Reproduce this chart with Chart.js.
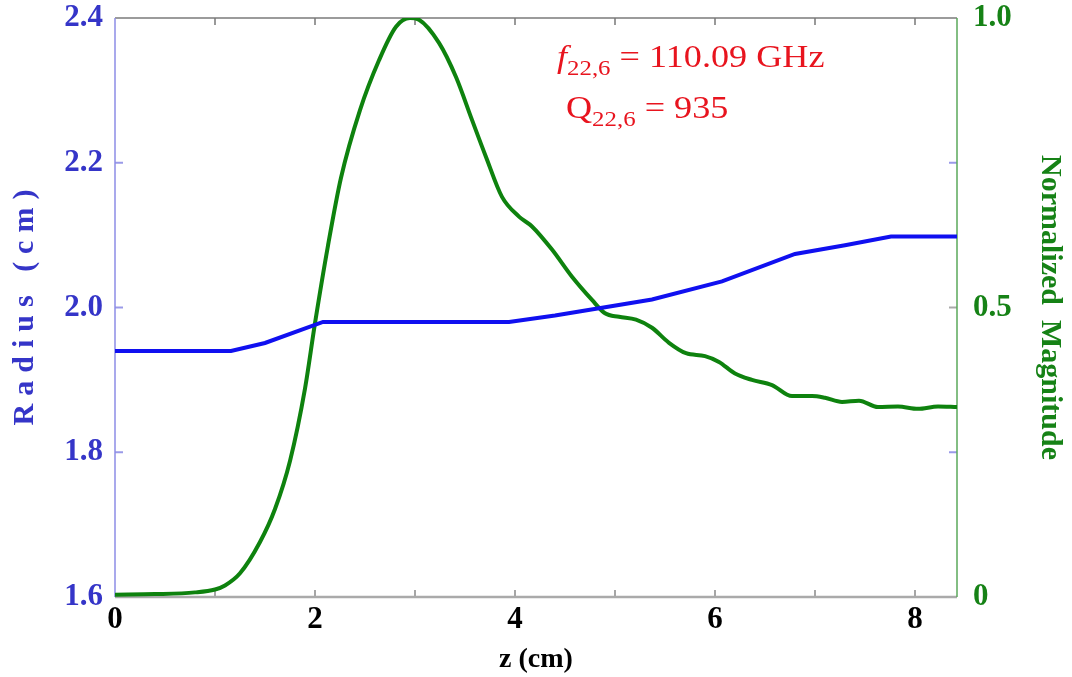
<!DOCTYPE html>
<html>
<head>
<meta charset="utf-8">
<script src="https://cdn.jsdelivr.net/npm/chart.js@4.4.1/dist/chart.umd.min.js"></script>
<style>
  html, body { margin: 0; padding: 0; background: #fff; }
  canvas { display: block; }
</style>
</head>
<body>
<canvas id="chart" width="1072" height="677"></canvas>
<script>
// ================= DATA =================
// cavity wall radius profile (left axis)
const radiusZ = [0, 1.16, 1.5, 2.08, 3.94, 4.4, 4.84, 5.37, 6.07, 6.8, 7.3, 7.76, 8.42];
const radius = [1.94, 1.94, 1.951, 1.98, 1.98, 1.989, 1.999, 2.011, 2.036, 2.074, 2.086, 2.098, 2.098];

// normalized field magnitude (right axis)
const fieldZ = [
  0, 0.4, 0.8, 1.0, 1.1, 1.25, 1.45, 1.6, 1.75, 1.9, 2.0, 2.13, 2.26,
  2.45, 2.64, 2.81, 2.95, 3.04, 3.24, 3.41, 3.57, 3.71, 3.87, 4.04, 4.17, 4.37,
  4.57, 4.77, 4.9, 5.04, 5.21, 5.37, 5.54, 5.71, 5.9, 6.04, 6.2, 6.37, 6.57, 6.77,
  6.97, 7.1, 7.27, 7.44, 7.63, 7.83, 8.03, 8.23, 8.42,
];
const field = [
  0.004, 0.005, 0.008, 0.013, 0.02, 0.041, 0.095, 0.152, 0.235, 0.36, 0.473, 0.607,
  0.724, 0.841, 0.927, 0.985, 1.0, 0.997, 0.957, 0.898, 0.824, 0.76,
  0.691, 0.657, 0.64, 0.6, 0.553, 0.513, 0.49, 0.484, 0.479, 0.465, 0.439, 0.421,
  0.416, 0.406, 0.386, 0.375, 0.366, 0.347, 0.347, 0.344, 0.337, 0.339, 0.328,
  0.329, 0.325, 0.329, 0.328,
];

const zTicks = [0, 2, 4, 6, 8];
const radiusTicks = [1.6, 1.8, 2.0, 2.2, 2.4];
const fieldTicks = [0, 0.5, 1.0];

const radiusTitle = "Radius (cm)";
const freqLabel = "= 110.09 GHz";
const qLabel = "= 935";
const modeIndex = "22,6";

// ================= STYLE =================
const SERIF = "'Liberation Serif', 'Times New Roman', serif";
const BLUE = "#1010f0";
const GREEN = "#0e820e";
const BLUE_TEXT = "#3535c8";
const GREEN_TEXT = "#168216";
const RED = "#e8141e";

// ================= PLUGINS =================
const frame = {
  id: "frame",
  beforeDatasetsDraw(chart) {
    const { ctx, chartArea: a, scales } = chart;
    const x = scales.x, y = scales.y, y1 = scales.y1;
    ctx.save();

    const line = (x0, y0, x2, y2, color, w) => {
      ctx.strokeStyle = color;
      ctx.lineWidth = w;
      ctx.beginPath();
      ctx.moveTo(x0, y0);
      ctx.lineTo(x2, y2);
      ctx.stroke();
    };

    // ticks every 1 cm, top and bottom, pointing inward
    for (let v = 1; v <= 8; v++) {
      const px = x.getPixelForValue(v);
      line(px, a.top, px, a.top + 7, "#777", 1.5);
      line(px, a.bottom, px, a.bottom - 7, "#888", 1.5);
    }
    [1.8, 2.0, 2.2].forEach((v) => {
      const py = y.getPixelForValue(v);
      line(a.left, py, a.left + 8, py, "#9a9ae8", 2);
    });
    [1.8, 2.2].forEach((v) => {
      const py = y.getPixelForValue(v);
      line(a.right, py, a.right - 8, py, "#9a9ae8", 2);
    });
    const p5 = y1.getPixelForValue(0.5);
    line(a.right, p5, a.right - 8, p5, "#aaa", 2);

    line(a.left, a.top, a.right, a.top, "#7a7a7a", 1.5);
    line(a.left, a.bottom, a.right, a.bottom, "#aaaaaa", 2.5);
    line(a.left, a.top, a.left, a.bottom, "#8c8ce6", 1.5);
    line(a.right, a.top, a.right, a.bottom, "#5aa85a", 1.5);
    ctx.restore();
  },
  afterDraw(chart) {
    const { ctx, chartArea: a } = chart;
    ctx.save();

    // left axis title, spread out as in the figure
    ctx.fillStyle = BLUE_TEXT;
    ctx.font = "bold 30px " + SERIF;
    ctx.textBaseline = "middle";
    const gap = 8;
    const chars = [...radiusTitle];
    const total =
      chars.reduce((s, c) => s + ctx.measureText(c).width, 0) + gap * (chars.length - 1);
    ctx.save();
    ctx.translate(25, (a.top + a.bottom) / 2);
    ctx.rotate(-Math.PI / 2);
    let cx = -total / 2;
    chars.forEach((c) => {
      ctx.fillText(c, cx, 0);
      cx += ctx.measureText(c).width + gap;
    });
    ctx.restore();

    // mode annotation
    ctx.fillStyle = RED;
    ctx.textBaseline = "alphabetic";
    const main = "32px " + SERIF;
    const sub = "22px " + SERIF;
    const drawLabel = (lead, italic, text, x0, base) => {
      ctx.save();
      ctx.translate(x0, base);
      ctx.scale(1.13, 1);
      let px = 0;
      ctx.font = (italic ? "italic " : "") + main;
      ctx.fillText(lead, px, 0);
      px += ctx.measureText(lead).width;
      ctx.font = sub;
      ctx.fillText(modeIndex, px, 8);
      px += ctx.measureText(modeIndex).width + 8;
      ctx.font = main;
      ctx.fillText(text, px, 0);
      ctx.restore();
    };
    drawLabel("f", true, freqLabel, a.left + 442, a.top + 49);
    drawLabel("Q", false, qLabel, a.left + 451, a.top + 100);
    ctx.restore();
  },
};

const tickFont = { family: SERIF, size: 31, weight: "bold" };
const noPad = (s) => {
  s.paddingTop = 0;
  s.paddingBottom = 0;
};

// ================= CHART =================
new Chart(document.getElementById("chart"), {
  type: "scatter",
  data: {
    datasets: [
      {
        label: "Radius",
        data: radiusZ.map((z, i) => ({ x: z, y: radius[i] })),
        yAxisID: "y",
        showLine: true,
        borderColor: BLUE,
        borderWidth: 4,
        pointRadius: 0,
        tension: 0,
      },
      {
        label: "Normalized Magnitude",
        data: fieldZ.map((z, i) => ({ x: z, y: field[i] })),
        yAxisID: "y1",
        showLine: true,
        borderColor: GREEN,
        borderWidth: 4,
        pointRadius: 0,
        cubicInterpolationMode: "monotone",
      },
    ],
  },
  options: {
    responsive: false,
    animation: false,
    devicePixelRatio: 1,
    layout: { padding: { top: 18, left: 0, right: 0, bottom: 0 } },
    plugins: { legend: { display: false }, tooltip: { enabled: false } },
    scales: {
      x: {
        type: "linear",
        min: 0,
        max: 8.42,
        afterFit: (s) => {
          s.height = 80;
          s.paddingLeft = 0;
          s.paddingRight = 0;
        },
        afterBuildTicks: (s) => (s.ticks = zTicks.map((v) => ({ value: v }))),
        grid: { display: false, drawTicks: false },
        border: { display: false },
        ticks: { color: "#000", padding: 4, font: tickFont },
        title: {
          display: true,
          text: "z (cm)",
          color: "#000",
          padding: { top: 0, bottom: 0 },
          font: { family: SERIF, size: 28, weight: "bold" },
        },
      },
      y: {
        position: "left",
        min: 1.6,
        max: 2.4,
        afterFit: (s) => {
          s.width = 115;
          noPad(s);
        },
        afterBuildTicks: (s) => (s.ticks = radiusTicks.map((v) => ({ value: v }))),
        grid: { display: false, drawTicks: false },
        border: { display: false },
        ticks: {
          color: BLUE_TEXT,
          padding: 12,
          font: tickFont,
          callback: (v) => v.toFixed(1),
        },
        title: { display: false },
      },
      y1: {
        position: "right",
        min: 0,
        max: 1,
        afterFit: (s) => {
          s.width = 115;
          noPad(s);
        },
        afterBuildTicks: (s) => (s.ticks = fieldTicks.map((v) => ({ value: v }))),
        grid: { display: false, drawTicks: false },
        border: { display: false },
        ticks: {
          color: GREEN_TEXT,
          padding: 16,
          font: tickFont,
          callback: (v) => (v === 0 ? "0" : v.toFixed(1)),
        },
        title: {
          display: true,
          text: "Normalized  Magnitude",
          color: GREEN_TEXT,
          padding: { top: 4, bottom: 0 },
          font: { family: SERIF, size: 30, weight: "bold" },
        },
      },
    },
  },
  plugins: [frame],
});
</script>
</body>
</html>
